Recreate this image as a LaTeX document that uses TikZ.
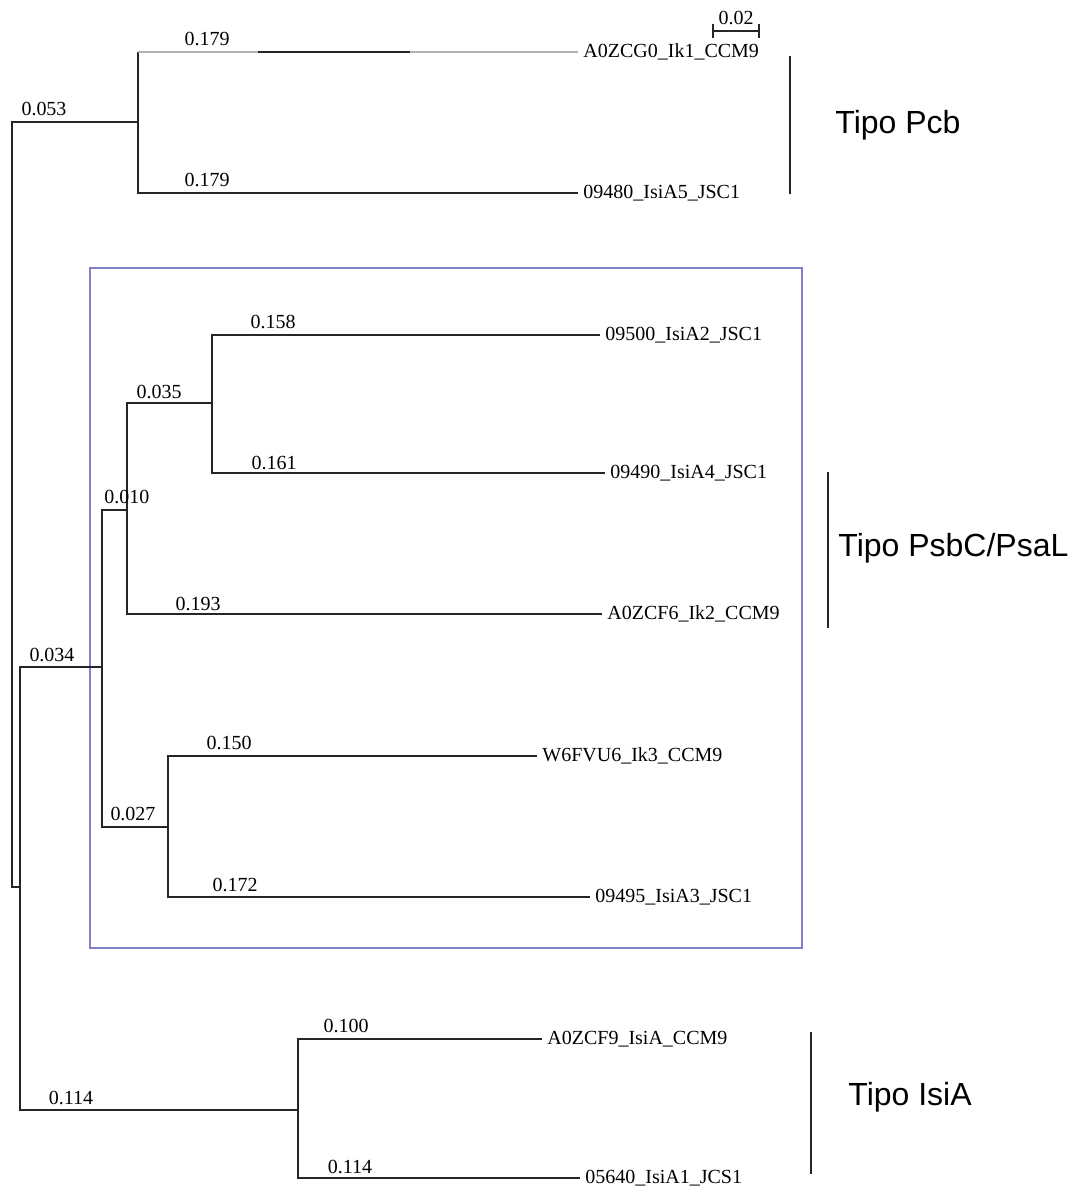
\documentclass[tikz,border=0pt]{standalone}
\usepackage{fontspec}
\setmainfont{Liberation Serif}
\newfontfamily\cladefont{Liberation Sans}
\usetikzlibrary{arrows.meta}

\tikzset{
  branch/.style={line width=1.1pt, black!85},
  leaf/.style={anchor=west, inner sep=2.5pt, font=\fontsize{10}{12}\selectfont},
  blen/.style={font=\fontsize{10}{12}\selectfont, inner sep=0pt},
  clade/.style={anchor=west, font=\cladefont\fontsize{16}{19}\selectfont, inner sep=0pt},
  bracket/.style={line width=1.1pt, black!85}
}

\begin{document}
\begin{tikzpicture}[x=0.5pt, y=-0.5pt]
  \useasboundingbox (0, 0) rectangle (1080, 1196);

  % Internal nodes
  \coordinate (root) at (12, 500);
  \coordinate (nPcb) at (138, 122);
  \coordinate (nLow) at (20, 887);
  \coordinate (nPsb) at (102, 667);
  \coordinate (n010) at (127, 510);
  \coordinate (n035) at (212, 403);
  \coordinate (n027) at (168, 827);
  \coordinate (nIsi) at (298, 1110);

  % Leaves
  \node[leaf] (ccg0) at (578, 52) {A0ZCG0\_Ik1\_CCM9};
  \node[leaf] (isa5) at (578, 193) {09480\_IsiA5\_JSC1};
  \node[leaf] (isa2) at (600, 335) {09500\_IsiA2\_JSC1};
  \node[leaf] (isa4) at (605, 473) {09490\_IsiA4\_JSC1};
  \node[leaf] (ccf6) at (602, 614) {A0ZCF6\_Ik2\_CCM9};
  \node[leaf] (fvu6) at (537, 756) {W6FVU6\_Ik3\_CCM9};
  \node[leaf] (isa3) at (590, 897) {09495\_IsiA3\_JSC1};
  \node[leaf] (ccf9) at (542, 1039) {A0ZCF9\_IsiA\_CCM9};
  \node[leaf] (isa1) at (580, 1178) {05640\_IsiA1\_JCS1};

  % Box round the PsbC/PsaL group
  \draw[line width=0.6pt, color={rgb,255:red,128;green,128;blue,200}] (90, 268) rectangle (802, 948);

  % Branches
  \draw[branch] (root) |- (nPcb);
  \draw[branch] (root) |- (nLow);
  \coordinate (ccg0base) at (nPcb |- ccg0.west);
  \draw[branch] (nPcb) -- (ccg0base);
  \draw[branch, gray!60, line width=0.9pt] (ccg0base) -- (ccg0.west);
  \draw[branch] (258, 52) -- (410, 52);
  \draw[branch] (nPcb) |- (isa5.west);
  \draw[branch] (nLow) |- (nPsb);
  \draw[branch] (nLow) |- (nIsi);
  \draw[branch] (nPsb) |- (n010);
  \draw[branch] (nPsb) |- (n027);
  \draw[branch] (n010) |- (n035);
  \draw[branch] (n010) |- (ccf6.west);
  \draw[branch] (n035) |- (isa2.west);
  \draw[branch] (n035) |- (isa4.west);
  \draw[branch] (n027) |- (fvu6.west);
  \draw[branch] (n027) |- (isa3.west);
  \draw[branch] (nIsi) |- (ccf9.west);
  \draw[branch] (nIsi) |- (isa1.west);

  % Branch lengths
  \node[blen] (l053) at (44, 109) {0.053};
  \node[blen] (l179a) at (207, 39) {0.179};
  \node[blen] (l179b) at (207, 180) {0.179};
  \node[blen] (l034) at (52, 655) {0.034};
  \node[blen] (l010) at (127, 497) {0.010};
  \node[blen] (l035) at (159, 392) {0.035};
  \node[blen] (l158) at (273, 322) {0.158};
  \node[blen] (l161) at (274, 463) {0.161};
  \node[blen] (l193) at (198, 604) {0.193};
  \node[blen] (l150) at (229, 743) {0.150};
  \node[blen] (l027) at (133, 814) {0.027};
  \node[blen] (l172) at (235, 885) {0.172};
  \node[blen] (l114a) at (71, 1098) {0.114};
  \node[blen] (l100) at (346, 1026) {0.100};
  \node[blen] (l114b) at (350, 1167) {0.114};

  % Scale bar
  \draw[line width=0.9pt, black!85, {Bar[width=7pt]}-{Bar[width=7pt]}] (712, 31) -- (760, 31);
  \node[blen] (scale) at (736, 18) {0.02};

  % Groups
  \draw[bracket] (790, 56) -- (790, 194);
  \node[clade] (tPcb) at (835, 125) {Tipo Pcb};
  \draw[bracket] (828, 472) -- (828, 628);
  \node[clade] (tPsb) at (838, 548) {Tipo PsbC/PsaL};
  \draw[bracket] (811, 1032) -- (811, 1174);
  \node[clade] (tIsi) at (848, 1097) {Tipo IsiA};
\end{tikzpicture}
\end{document}
